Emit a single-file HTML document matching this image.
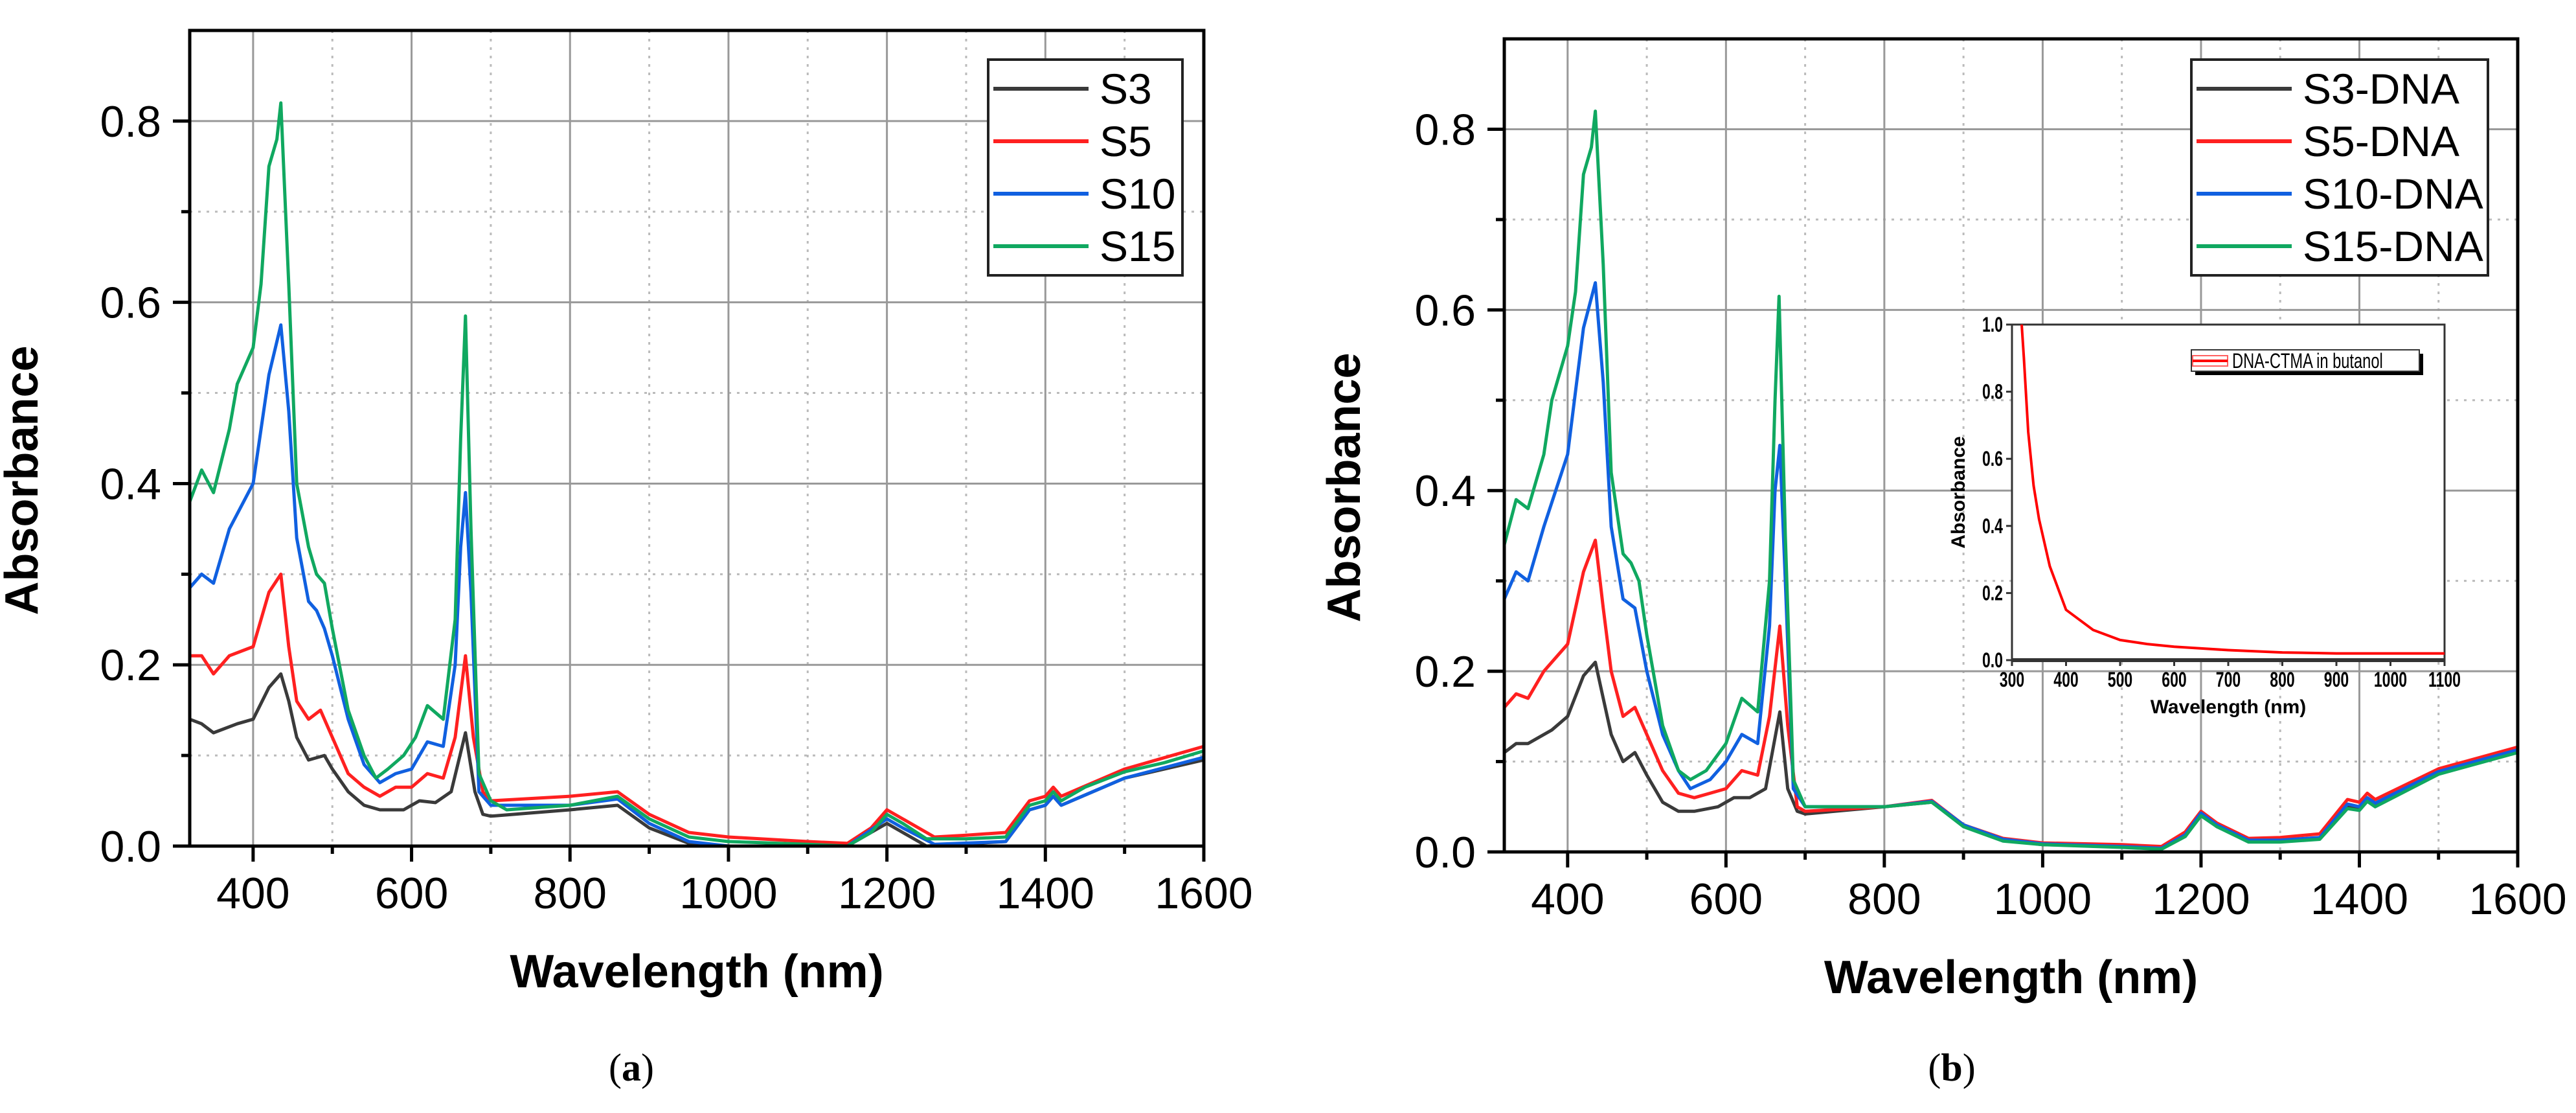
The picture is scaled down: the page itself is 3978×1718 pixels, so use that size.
<!DOCTYPE html>
<html><head><meta charset="utf-8"><style>
html,body{margin:0;padding:0;background:#fff;}
svg{display:block;font-family:"Liberation Sans",Arial,sans-serif;}
</style></head><body>
<svg id="fig" width="3978" height="1718" viewBox="0 0 3978 1718" xmlns="http://www.w3.org/2000/svg">
<g id="pa"></g>
<g id="pb"></g>
<g id="ins"></g>
<text x="975" y="1668" font-family="Liberation Serif,serif" font-size="60" text-anchor="middle">(<tspan font-weight="bold">a</tspan>)</text>
<text x="3014" y="1668" font-family="Liberation Serif,serif" font-size="60" text-anchor="middle">(<tspan font-weight="bold">b</tspan>)</text>
</svg>
<script>
// ---------- data: panel (a) ----------
const aS3x=[320,335,350,380,400,420,435,445,455,470,490,500,520,540,560,590,610,630,650,668,680,690,700,800,860,900,950,1000,1150,1200,1220,1250,1350,1380,1400,1410,1420,1500,1600];
const aS3y=[0.14,0.135,0.125,0.135,0.14,0.175,0.19,0.16,0.12,0.095,0.1,0.085,0.06,0.045,0.04,0.04,0.05,0.048,0.06,0.125,0.06,0.035,0.033,0.04,0.045,0.02,0.003,0.0,0.0,0.025,0.015,0.0,0.005,0.04,0.045,0.055,0.045,0.075,0.095];
const aS5x=[320,335,350,370,400,420,435,445,455,470,485,500,520,540,560,580,600,620,640,655,668,678,690,700,800,860,900,950,1000,1100,1150,1180,1200,1220,1260,1300,1350,1380,1400,1410,1420,1500,1600];
const aS5y=[0.21,0.21,0.19,0.21,0.22,0.28,0.3,0.22,0.16,0.14,0.15,0.12,0.08,0.065,0.055,0.065,0.065,0.08,0.075,0.12,0.21,0.12,0.06,0.05,0.055,0.06,0.035,0.015,0.01,0.005,0.003,0.02,0.04,0.03,0.01,0.012,0.015,0.05,0.055,0.065,0.055,0.085,0.11];
const aS10x=[320,335,350,370,400,420,435,445,455,470,480,490,500,520,540,560,580,600,620,640,655,662,668,675,685,700,800,860,900,950,1000,1150,1200,1220,1260,1350,1380,1400,1410,1420,1500,1600];
const aS10y=[0.285,0.3,0.29,0.35,0.4,0.52,0.575,0.48,0.34,0.27,0.26,0.24,0.21,0.14,0.09,0.07,0.08,0.085,0.115,0.11,0.2,0.33,0.39,0.28,0.06,0.045,0.045,0.052,0.025,0.005,0.0,0.0,0.03,0.02,0.002,0.005,0.04,0.045,0.055,0.045,0.075,0.098];
const aS15x=[320,335,350,370,380,400,410,420,430,435,445,455,470,480,490,500,520,540,555,570,590,605,620,640,655,662,668,675,685,700,720,800,860,900,950,1000,1100,1150,1180,1200,1220,1250,1300,1350,1380,1400,1410,1420,1450,1500,1550,1600];
const aS15y=[0.38,0.415,0.39,0.46,0.51,0.55,0.62,0.75,0.78,0.82,0.62,0.4,0.33,0.3,0.29,0.24,0.15,0.1,0.075,0.085,0.1,0.12,0.155,0.14,0.25,0.45,0.585,0.35,0.08,0.05,0.04,0.045,0.055,0.03,0.01,0.005,0.002,0.0,0.015,0.035,0.025,0.008,0.008,0.01,0.045,0.05,0.06,0.05,0.065,0.082,0.092,0.105];
// ---------- data: panel (b) ----------
const bS3x=[320,335,350,380,400,420,435,445,455,470,485,500,520,540,560,590,610,630,650,668,678,690,700,800,860,900,950,1000,1100,1150,1180,1200,1220,1260,1300,1350,1385,1400,1410,1420,1500,1600];
const bS3y=[0.11,0.12,0.12,0.135,0.15,0.195,0.21,0.17,0.13,0.1,0.11,0.085,0.055,0.045,0.045,0.05,0.06,0.06,0.07,0.155,0.07,0.045,0.042,0.05,0.055,0.03,0.013,0.008,0.006,0.004,0.018,0.042,0.028,0.012,0.012,0.015,0.05,0.048,0.058,0.052,0.088,0.112];
const bS5x=[320,335,350,370,400,420,435,445,455,470,485,500,520,540,560,580,600,620,640,655,668,678,690,700,800,860,900,950,1000,1100,1150,1180,1200,1220,1260,1300,1350,1385,1400,1410,1420,1500,1600];
const bS5y=[0.16,0.175,0.17,0.2,0.23,0.31,0.345,0.27,0.2,0.15,0.16,0.13,0.09,0.065,0.06,0.065,0.07,0.09,0.085,0.15,0.25,0.14,0.05,0.045,0.05,0.057,0.03,0.015,0.01,0.008,0.006,0.022,0.045,0.032,0.015,0.016,0.02,0.058,0.055,0.065,0.058,0.092,0.116];
const bS10x=[320,335,350,370,400,420,435,445,455,470,485,500,520,540,555,580,600,620,640,655,662,668,675,685,700,800,860,900,950,1000,1100,1150,1180,1200,1220,1260,1300,1350,1385,1400,1410,1420,1500,1600];
const bS10y=[0.28,0.31,0.3,0.36,0.44,0.58,0.63,0.52,0.36,0.28,0.27,0.2,0.13,0.09,0.07,0.08,0.1,0.13,0.12,0.25,0.4,0.45,0.3,0.07,0.05,0.05,0.056,0.03,0.014,0.009,0.006,0.004,0.019,0.043,0.03,0.013,0.013,0.016,0.053,0.05,0.06,0.054,0.089,0.113];
const bS15x=[320,335,350,370,380,400,410,420,430,435,445,455,470,480,490,500,520,540,555,575,600,620,640,655,662,667,675,685,700,800,860,900,950,1000,1100,1150,1180,1200,1220,1260,1300,1350,1385,1400,1410,1420,1500,1600];
const bS15y=[0.34,0.39,0.38,0.44,0.5,0.56,0.62,0.75,0.78,0.82,0.65,0.42,0.33,0.32,0.3,0.24,0.14,0.09,0.08,0.09,0.12,0.17,0.155,0.3,0.5,0.615,0.35,0.08,0.05,0.05,0.055,0.028,0.012,0.008,0.005,0.003,0.017,0.04,0.028,0.011,0.011,0.014,0.048,0.046,0.056,0.05,0.086,0.11];
// ---------- data: inset ----------
const insX=[318,322,330,340,350,370,400,450,500,550,600,650,700,800,900,1000,1100];
const insY=[1.0,0.9,0.68,0.52,0.42,0.28,0.15,0.09,0.06,0.048,0.04,0.035,0.03,0.023,0.02,0.02,0.02];
const xTicksMain=[400,600,800,1000,1200,1400,1600];
const yTicksMain=[0.0,0.2,0.4,0.6,0.8];
const xTicksInset=[300,400,500,600,700,800,900,1000,1100];
const yTicksInset=[0.0,0.2,0.4,0.6,0.8,1.0];

const NS='http://www.w3.org/2000/svg';
function mk(parent,tag,attrs,text){const e=document.createElementNS(NS,tag);for(const k in attrs)e.setAttribute(k,attrs[k]);if(text!==undefined)e.textContent=text;parent.appendChild(e);return e;}
const COLORS={S3:'#3a3a3a',S5:'#ff2020',S10:'#1060e0',S15:'#10a860'};

function panel(g,o){
  const sx=v=>o.L+(v-320)/(1600-320)*(o.R-o.L);
  const sy=v=>o.B-v/0.9*(o.B-o.T);
  // grid
  for(let v=500;v<1600;v+=200){const l=mk(g,'line',{x1:sx(v),x2:sx(v),y1:o.T,y2:o.B,stroke:'#bbb','stroke-width':3,'stroke-dasharray':'4 9'});}
  for(const v of [0.1,0.3,0.5,0.7]){const l=mk(g,'line',{x1:o.L,x2:o.R,y1:sy(v),y2:sy(v),stroke:'#bbb','stroke-width':3,'stroke-dasharray':'4 9'});}
  for(const v of xTicksMain){if(v>=1600)continue;const l=mk(g,'line',{x1:sx(v),x2:sx(v),y1:o.T,y2:o.B,stroke:'#999','stroke-width':3});}
  for(const v of yTicksMain){if(v==0)continue;const l=mk(g,'line',{x1:o.L,x2:o.R,y1:sy(v),y2:sy(v),stroke:'#999','stroke-width':3});}
  // series
  const keys=['S3','S5','S10','S15'];
  keys.forEach((k,i)=>{const xs=o.data[i][0],ys=o.data[i][1];
    const d=xs.map((x,j)=>(j?'L':'M')+sx(x).toFixed(1)+' '+sy(ys[j]).toFixed(1)).join(' ');
    const p=mk(g,'path',{d:d,fill:'none',stroke:COLORS[k],'stroke-width':5,'stroke-linejoin':'round'});
    
    });
  // frame
  const fr=mk(g,'rect',{x:o.L,y:o.T,width:o.R-o.L,height:o.B-o.T,fill:'none',stroke:'#000','stroke-width':5});
  
  // ticks
  for(const v of xTicksMain){const t=mk(g,'line',{x1:sx(v),x2:sx(v),y1:o.B,y2:o.B+24,stroke:'#000','stroke-width':5});
    const lb=mk(g,'text',{x:sx(v),y:o.B+96,'font-size':68,'text-anchor':'middle'},String(v));}
  for(let v=500;v<1600;v+=200){const t=mk(g,'line',{x1:sx(v),x2:sx(v),y1:o.B,y2:o.B+12,stroke:'#000','stroke-width':5});}
  for(const v of yTicksMain){const t=mk(g,'line',{x1:o.L-26,x2:o.L,y1:sy(v),y2:sy(v),stroke:'#000','stroke-width':5});
    const lb=mk(g,'text',{x:o.L-44,y:sy(v)+24,'font-size':68,'text-anchor':'end'},v.toFixed(1));}
  for(const v of [0.1,0.3,0.5,0.7]){const t=mk(g,'line',{x1:o.L-13,x2:o.L,y1:sy(v),y2:sy(v),stroke:'#000','stroke-width':5});}
  const xt=mk(g,'text',{x:(o.L+o.R)/2,y:o.B+218,'font-size':72,'font-weight':'bold','text-anchor':'middle'},'Wavelength (nm)');
  
  const yt=mk(g,'text',{x:0,y:0,'font-size':72,'font-weight':'bold','text-anchor':'middle',transform:'translate('+(o.ytx)+','+((o.T+o.B)/2+65)+') rotate(-90)'},'Absorbance');
  
  // legend
  const lg=mk(g,'g',{});
  const bx=mk(lg,'rect',{x:o.lg[0],y:92,width:o.lg[1],height:333,fill:'#fff',stroke:'#222','stroke-width':4});
  
  keys.forEach((k,i)=>{const y=137+i*81;
    const l=mk(lg,'line',{x1:o.lg[0]+8,x2:o.lg[0]+155,y1:y,y2:y,stroke:COLORS[k],'stroke-width':6});
    
    const t=mk(lg,'text',{x:o.lg[0]+172,y:y+23,'font-size':66},k+o.suffix);
    });
}
panel(document.getElementById('pa'),{L:293,R:1859,T:47,B:1306,ytx:58,suffix:'',lg:[1526,300],
  data:[[aS3x,aS3y],[aS5x,aS5y],[aS10x,aS10y],[aS15x,aS15y]]});
panel(document.getElementById('pb'),{L:2323,R:3888,T:60,B:1315,ytx:2100,suffix:'-DNA',lg:[3384,458],
  data:[[bS3x,bS3y],[bS5x,bS5y],[bS10x,bS10y],[bS15x,bS15y]]});

// inset
(function(){
  const g=document.getElementById('ins');
  const L=3107,R=3775,T=501,B=1019;
  const sx=v=>L+(v-300)/800*(R-L), sy=v=>B-v*(B-T);
  const bg=mk(g,'rect',{x:L,y:T,width:R-L,height:B-T,fill:'#fff',stroke:'#333','stroke-width':3});
  
  const base=mk(g,'line',{x1:L,x2:R,y1:B,y2:B,stroke:'#333','stroke-width':6});
  
  const cp=mk(g,'clipPath',{id:'insclip'});mk(cp,'rect',{x:L,y:T,width:R-L,height:B-T});
  const d=insX.map((x,j)=>(j?'L':'M')+sx(x).toFixed(1)+' '+sy(insY[j]).toFixed(1)).join(' ');
  const p=mk(g,'path',{d:d,fill:'none',stroke:'#ff0000','stroke-width':4,'clip-path':'url(#insclip)'});
  
  for(const v of xTicksInset){const t=mk(g,'line',{x1:sx(v),x2:sx(v),y1:B,y2:B+9,stroke:'#333','stroke-width':3});
    const lb=mk(g,'text',{x:sx(v),y:B+41,'font-size':32,'font-weight':'bold','text-anchor':'middle',transform:'translate('+sx(v)+',0) scale(0.72,1) translate('+(-sx(v))+',0)'},String(v));}
  for(const v of yTicksInset){const t=mk(g,'line',{x1:L-9,x2:L,y1:sy(v),y2:sy(v),stroke:'#333','stroke-width':3});
    const lb=mk(g,'text',{x:L-14,y:sy(v)+11,'font-size':32,'font-weight':'bold','text-anchor':'end',transform:'translate('+(L-14)+',0) scale(0.72,1) translate('+(-(L-14))+',0)'},v.toFixed(1));}
  const xt=mk(g,'text',{x:(L+R)/2,y:B+82,'font-size':30,'font-weight':'bold','text-anchor':'middle'},'Wavelength (nm)');
  
  const yt=mk(g,'text',{x:0,y:0,'font-size':30,'font-weight':'bold','text-anchor':'middle',transform:'translate(3034,'+((T+B)/2)+') rotate(-90)'},'Absorbance');
  
  const sh=mk(g,'rect',{x:3390,y:546,width:352,height:33,fill:'#000'});
  
  const lb=mk(g,'rect',{x:3384,y:540,width:352,height:33,fill:'#fff',stroke:'#333','stroke-width':2});
  
  const sw=mk(g,'rect',{x:3386,y:549,width:54,height:16,fill:'#fff',stroke:'#ff6060','stroke-width':2});
  
  const sl=mk(g,'line',{x1:3386,x2:3440,y1:557,y2:557,stroke:'#ff0000','stroke-width':4});
  
  const lt=mk(g,'text',{x:3447,y:568,'font-size':32,transform:'translate(3447,0) scale(0.74,1) translate(-3447,0)'},'DNA-CTMA in butanol');
  
})();
</script>
</body></html>
